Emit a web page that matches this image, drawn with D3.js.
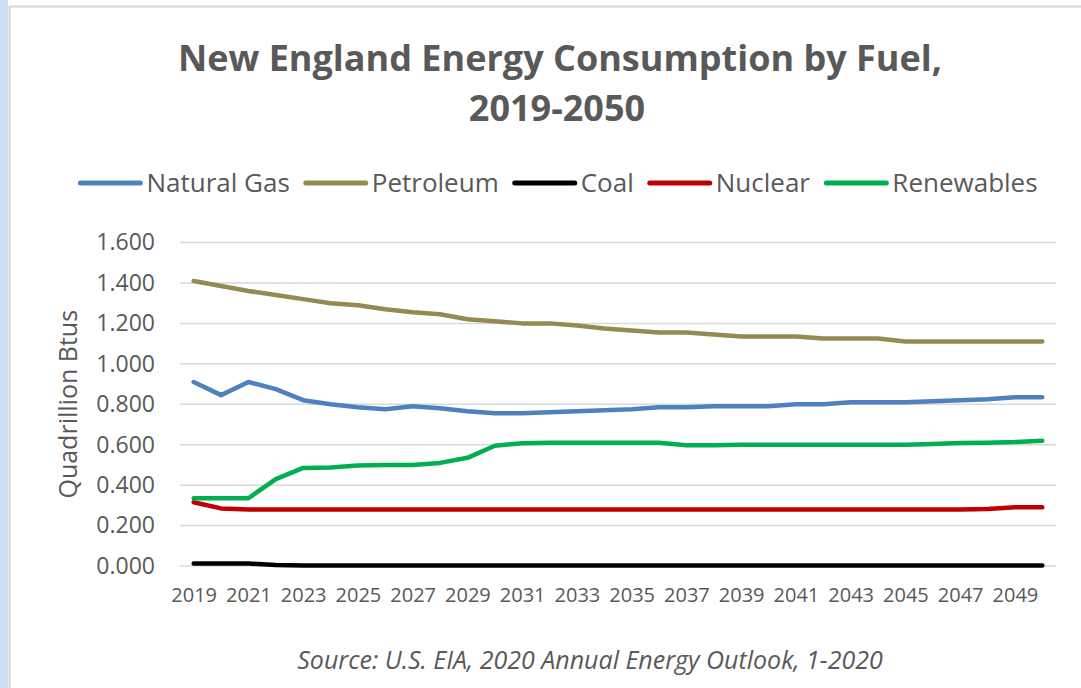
<!DOCTYPE html>
<html>
<head>
<meta charset="utf-8">
<script src="https://cdn.jsdelivr.net/npm/d3@7"></script>
<style>
  html, body { margin: 0; padding: 0; background: #fff; }
  svg { display: block; }
  text { font-family: "Open Sans", sans-serif; fill: #595959; }
</style>
</head>
<body>
<svg id="chart"></svg>
<script>
const years = [2019, 2020, 2021, 2022, 2023, 2024, 2025, 2026, 2027, 2028, 2029, 2030,
  2031, 2032, 2033, 2034, 2035, 2036, 2037, 2038, 2039, 2040, 2041, 2042,
  2043, 2044, 2045, 2046, 2047, 2048, 2049, 2050];
const yearLabels = [2019, 2021, 2023, 2025, 2027, 2029, 2031, 2033, 2035, 2037, 2039,
  2041, 2043, 2045, 2047, 2049];
const yTicks = [0, 0.2, 0.4, 0.6, 0.8, 1.0, 1.2, 1.4, 1.6];

const naturalGas = [0.91, 0.845, 0.91, 0.875, 0.82, 0.8, 0.785, 0.775, 0.79, 0.78, 0.765, 0.755,
  0.755, 0.76, 0.765, 0.77, 0.775, 0.785, 0.785, 0.79, 0.79, 0.79, 0.8, 0.8,
  0.81, 0.81, 0.81, 0.815, 0.82, 0.825, 0.835, 0.835];
const petroleum = [1.41, 1.385, 1.36, 1.34, 1.32, 1.3, 1.29, 1.27, 1.255, 1.245, 1.22, 1.21,
  1.2, 1.2, 1.19, 1.175, 1.165, 1.155, 1.155, 1.145, 1.135, 1.135, 1.135, 1.125,
  1.125, 1.125, 1.11, 1.11, 1.11, 1.11, 1.11, 1.11];
const coal = [0.012, 0.012, 0.012, 0.005, 0.002, 0.002, 0.002, 0.002, 0.002, 0.002, 0.002, 0.002,
  0.002, 0.002, 0.002, 0.002, 0.002, 0.002, 0.002, 0.002, 0.002, 0.002, 0.002, 0.002,
  0.002, 0.002, 0.002, 0.002, 0.002, 0.002, 0.002, 0.002];
const nuclear = [0.315, 0.285, 0.28, 0.28, 0.28, 0.28, 0.28, 0.28, 0.28, 0.28, 0.28, 0.28,
  0.28, 0.28, 0.28, 0.28, 0.28, 0.28, 0.28, 0.28, 0.28, 0.28, 0.28, 0.28,
  0.28, 0.28, 0.28, 0.28, 0.28, 0.282, 0.29, 0.29];
const renewables = [0.335, 0.335, 0.335, 0.43, 0.485, 0.487, 0.497, 0.5, 0.5, 0.51, 0.535, 0.595,
  0.607, 0.61, 0.61, 0.61, 0.61, 0.61, 0.597, 0.597, 0.6, 0.6, 0.6, 0.6,
  0.6, 0.6, 0.6, 0.603, 0.608, 0.61, 0.613, 0.62];

const seriesNames = ["Natural Gas", "Petroleum", "Coal", "Nuclear", "Renewables"];
const seriesValues = [naturalGas, petroleum, coal, nuclear, renewables];
const seriesColors = ["#4F81BD", "#948A54", "#000000", "#C00000", "#00B050"];

const width = 1081;
const height = 688;
const plot = { left: 180, right: 1056, top: 242.5, bottom: 566 };

const svg = d3.select("#chart")
  .attr("width", width)
  .attr("height", height);

// frame: light blue strip on the left, grey border lines
svg.append("rect").attr("width", width).attr("height", height).attr("fill", "#fff");
svg.append("rect").attr("x", 0).attr("y", 0).attr("width", 8).attr("height", height).attr("fill", "#CCDDF6");
svg.append("line").attr("x1", 9.5).attr("x2", 9.5).attr("y1", 6).attr("y2", height)
  .attr("stroke", "#D4D4D4").attr("stroke-width", 2);
svg.append("line").attr("x1", 9).attr("x2", width).attr("y1", 6.5).attr("y2", 6.5)
  .attr("stroke", "#D4D4D4").attr("stroke-width", 2);

const x = d3.scalePoint()
  .domain(years)
  .range([plot.left, plot.right])
  .padding(0.5);

const y = d3.scaleLinear()
  .domain([0, 1.6])
  .range([plot.bottom, plot.top]);

// gridlines
svg.append("g")
  .selectAll("line")
  .data(yTicks)
  .enter()
  .append("line")
  .attr("x1", plot.left)
  .attr("x2", plot.right)
  .attr("y1", (d) => y(d))
  .attr("y2", (d) => y(d))
  .attr("stroke", "#D9D9D9")
  .attr("stroke-width", 1.5);

// y axis
const yAxis = svg.append("g")
  .attr("transform", `translate(${plot.left},0)`)
  .call(d3.axisLeft(y).tickValues(yTicks).tickFormat(d3.format(".3f")).tickSize(0).tickPadding(25));
yAxis.select(".domain").remove();
yAxis.selectAll("text")
  .attr("font-size", 23)
  .attr("font-family", "Open Sans")
  .attr("fill", "#595959");

// x axis
const xAxis = svg.append("g")
  .attr("transform", `translate(0,${plot.bottom})`)
  .call(d3.axisBottom(x).tickValues(yearLabels).tickSize(0).tickPadding(22));
xAxis.select(".domain").remove();
xAxis.selectAll("text")
  .attr("font-size", 20)
  .attr("font-family", "Open Sans")
  .attr("fill", "#595959");

// y axis title
svg.append("text")
  .attr("transform", `translate(77,${(plot.top + plot.bottom) / 2}) rotate(-90)`)
  .attr("text-anchor", "middle")
  .attr("font-size", 25)
  .text("Quadrillion Btus");

// lines
const line = d3.line()
  .x((d, i) => x(years[i]))
  .y((d) => y(d));

svg.append("g")
  .selectAll("path")
  .data(seriesValues)
  .enter()
  .append("path")
  .attr("d", (d) => line(d))
  .attr("fill", "none")
  .attr("stroke", (_, i) => seriesColors[i])
  .attr("stroke-width", 4.5)
  .attr("stroke-linecap", "round")
  .attr("stroke-linejoin", "round");

// title
svg.append("text")
  .attr("x", 560)
  .attr("y", 71)
  .attr("text-anchor", "middle")
  .attr("font-size", 36)
  .attr("font-weight", "bold")
  .text("New England Energy Consumption by Fuel,");
svg.append("text")
  .attr("x", 557)
  .attr("y", 121)
  .attr("text-anchor", "middle")
  .attr("font-size", 36)
  .attr("font-weight", "bold")
  .text("2019-2050");

// legend
const legendY = 183;
const legend = svg.append("g");
const items = legend.selectAll("g")
  .data(seriesNames)
  .enter()
  .append("g");
items.append("line")
  .attr("x1", 0)
  .attr("x2", 60)
  .attr("y1", legendY)
  .attr("y2", legendY)
  .attr("stroke", (_, i) => seriesColors[i])
  .attr("stroke-width", 5)
  .attr("stroke-linecap", "round");
items.append("text")
  .attr("x", 66)
  .attr("y", legendY)
  .attr("dy", "0.35em")
  .attr("font-size", 26)
  .text((d) => d);
let offset = 0;
const widths = [];
items.each(function () {
  widths.push(this.getBBox().width);
});
const gap = 16;
const total = d3.sum(widths) + gap * (widths.length - 1);
offset = 559 - total / 2;
items.attr("transform", (_, i) => {
  const tx = offset;
  offset += widths[i] + gap;
  return `translate(${tx},0)`;
});

// source note
svg.append("text")
  .attr("x", 590)
  .attr("y", 669)
  .attr("text-anchor", "middle")
  .attr("font-size", 25)
  .attr("font-style", "italic")
  .text("Source: U.S. EIA, 2020 Annual Energy Outlook, 1-2020");
</script>
</body>
</html>
